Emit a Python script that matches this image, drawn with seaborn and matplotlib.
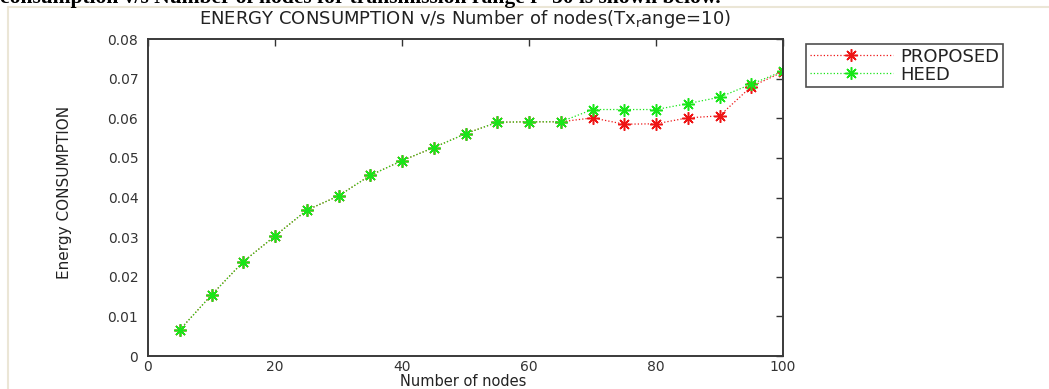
import matplotlib
matplotlib.use("Agg")
import matplotlib.pyplot as plt
from matplotlib.lines import Line2D
import seaborn as sns
import pandas as pd

# ---- data ----
nodes = [5, 10, 15, 20, 25, 30, 35, 40, 45, 50, 55, 60, 65, 70, 75, 80, 85, 90, 95, 100]
proposed = [0.0066, 0.0154, 0.0238, 0.0303, 0.0368, 0.0404, 0.0456, 0.0493, 0.0526, 0.0561,
            0.0590, 0.0591, 0.0591, 0.0601, 0.0585, 0.0586, 0.0601, 0.0606, 0.0680, 0.0717]
heed = [0.0066, 0.0154, 0.0238, 0.0303, 0.0368, 0.0404, 0.0456, 0.0493, 0.0526, 0.0561,
        0.0590, 0.0591, 0.0591, 0.0622, 0.0622, 0.0622, 0.0637, 0.0653, 0.0686, 0.0719]
series_names = ["PROPOSED", "HEED"]
xticks = [0, 20, 40, 60, 80, 100]
yticks = [0, 0.01, 0.02, 0.03, 0.04, 0.05, 0.06, 0.07, 0.08]
ytick_labels = ["0", "0.01", "0.02", "0.03", "0.04", "0.05", "0.06", "0.07", "0.08"]
title = r"ENERGY CONSUMPTION v/s Number of nodes(Tx$_\mathregular{r}$ange=10)"
xlabel = "Number of nodes"
ylabel = "Energy CONSUMPTION"
header = "consumption v/s Number of nodes for transmission range r=50 is shown below."

df = pd.DataFrame({"nodes": nodes * 2,
                   "energy": proposed + heed,
                   "method": [series_names[0]] * len(nodes) + [series_names[1]] * len(nodes)})

sns.set_theme(style="white")
plt.rcParams["font.family"] = ["DejaVu Sans"]
plt.rcParams["mathtext.fontset"] = "dejavusans"

W, H = 1049, 389
fig = plt.figure(figsize=(W / 100, H / 100), dpi=100)
fig.patch.set_facecolor("white")

# page decoration (cropped document frame)
fig.add_artist(Line2D([8 / W, 1], [1 - 7 / H, 1 - 7 / H], transform=fig.transFigure,
                      color="#ebe6d6", lw=1.5))
fig.add_artist(Line2D([8 / W, 8 / W], [0, 1 - 7 / H], transform=fig.transFigure,
                      color="#ebe6d6", lw=1.5))
fig.text(0.0, 1 - 2.5 / H, header, family="Liberation Serif", fontsize=15.5,
         fontweight="bold", va="baseline", ha="left", color="black")

ax = fig.add_axes([148 / W, 1 - 356 / H, 635 / W, 317 / H])
ax.set_facecolor("white")

colors = {"PROPOSED": "#ee1515", "HEED": "#18e618"}
star = (8, 2, 0)
for name in series_names:
    sub = df[df["method"] == name]
    sns.lineplot(data=sub, x="nodes", y="energy", ax=ax, color=colors[name],
                 linestyle=":", linewidth=0.9, marker=star, markersize=9,
                 markeredgewidth=1.1, markeredgecolor=colors[name],
                 label=name, errorbar=None)

ax.set_xlim(0, 100)
ax.set_ylim(0, 0.08)
ax.set_xticks(xticks)
ax.set_xticklabels([str(t) for t in xticks])
ax.set_yticks(yticks)
ax.set_yticklabels(ytick_labels)
ax.tick_params(direction="in", length=5, width=1, colors="#333333",
               top=True, right=True, labelsize=10, labelcolor="#333333")
ax.tick_params(axis="y", pad=7)
ax.tick_params(axis="x", pad=3)
for s in ax.spines.values():
    s.set_visible(True)
    s.set_color("#3a3a3a")
    s.set_linewidth(1.4)

ax.set_xlabel(xlabel, fontsize=10.5, color="#222222", va="baseline", ha="center")
ax.xaxis.set_label_coords((463 - 148) / 635, -(385.5 - 356) / 317)
ax.set_ylabel(ylabel, fontsize=11, color="#222222", va="center", ha="center")
ax.yaxis.set_label_coords((64 - 148) / 635, (356 - 192.5) / 317)

fig.text(465 / W, 1 - 18.5 / H, title, fontsize=13, color="#222222",
         ha="center", va="center")

leg = ax.legend(loc="upper left", bbox_to_anchor=(806 / W, 1 - 44 / H),
                bbox_transform=fig.transFigure, borderaxespad=0, fontsize=13,
                frameon=True, fancybox=False, handlelength=4.6, handletextpad=0.4,
                labelspacing=0.0, borderpad=0.2)
leg.get_frame().set_edgecolor("#222222")
leg.get_frame().set_linewidth(1.2)
for t in leg.get_texts():
    t.set_color("#222222")

fig.savefig("out.png", dpi=100, facecolor="white")
